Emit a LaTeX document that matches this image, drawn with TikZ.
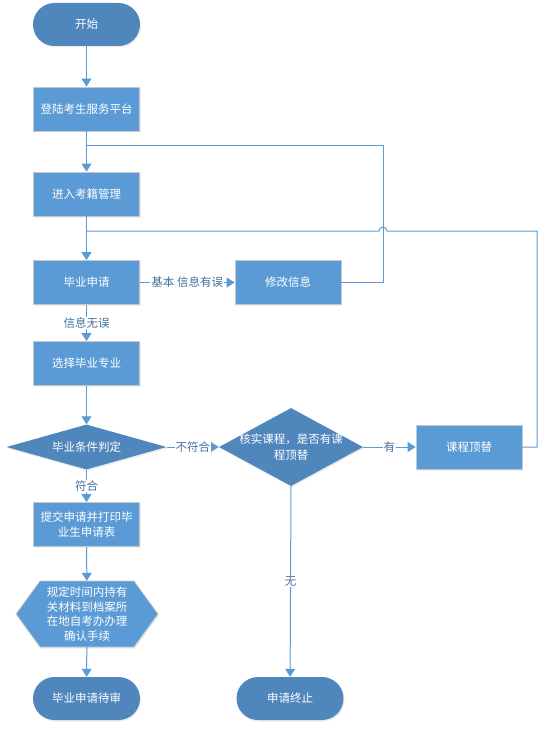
\documentclass[tikz,border=0pt]{standalone}
\usepackage{fontspec}
\setmainfont{Noto Sans CJK SC}
\usetikzlibrary{arrows.meta,shapes.geometric,shapes.misc,shadows}
\definecolor{darkfill}{HTML}{4F86BC}
\definecolor{boxfill}{HTML}{5B9BD5}
\definecolor{linecol}{HTML}{5B9BD5}
\definecolor{labelcol}{HTML}{41719C}
\definecolor{bordercol}{HTML}{C4C8CC}
\begin{document}
\begin{tikzpicture}[x=1pt,y=-1pt,
  font=\fontsize{11.5}{14.5}\selectfont,
  softshadow/.style={drop shadow={shadow xshift=1pt,shadow yshift=-1.5pt,opacity=0.18,fill=black!40}},
  term/.style={rectangle,rounded corners=21.5pt,fill=darkfill,text=white,minimum width=107pt,minimum height=43pt,inner sep=0pt,softshadow},
  procbox/.style={rectangle,fill=boxfill,draw=bordercol,line width=0.8pt,text=white,minimum width=106pt,minimum height=44pt,inner sep=0pt,align=center,softshadow},
  dia/.style={diamond,fill=darkfill,inner sep=0pt,softshadow},
  txt/.style={text=white,align=center,inner sep=0pt},
  conn/.style={draw=linecol,line width=1pt,-{Triangle[width=10pt,length=8pt]}},
  plain/.style={draw=linecol,line width=1pt},
  lbl/.style={fill=white,text=labelcol,inner sep=1pt}]
\useasboundingbox (0,0) rectangle (551,730);

% nodes
\node[term] (start) at (86.5,24.5) {开始};
\node[procbox] (denglu) at (86.5,109) {登陆考生服务平台};
\node[procbox] (jinru) at (86.5,194) {进入考籍管理};
\node[procbox] (shenqing) at (86.5,282.5) {毕业申请};
\node[procbox] (xiugai) at (288,282.5) {修改信息};
\node[procbox] (xuanze) at (86.5,363.5) {选择毕业专业};
\node[dia,minimum width=160pt,minimum height=45pt] (tiaojian) at (86.5,447) {};
\node[txt] (tiaojiantxt) at (tiaojian) {毕业条件判定};
\node[dia,minimum width=144pt,minimum height=78pt] (heshi) at (291,447) {};
\node[txt] (heshitxt) at (heshi) {核实课程，是否有课\\[1.5pt]程顶替};
\node[procbox] (dingti) at (469,447) {课程顶替};
\node[procbox] (tijiao) at (86.5,524.5) {提交申请并打印毕\\[0pt]业生申请表};
\fill[boxfill,draw=bordercol,line width=0.8pt,softshadow] (16,614) -- (40,581) -- (134,581) -- (158,614) -- (134,647) -- (40,647) -- cycle;
\node[txt,minimum width=142pt,minimum height=66pt,font=\fontsize{11.5}{14.5}\selectfont] (hex) at (87,614) {规定时间内持有\\关材料到档案所\\在地自考办办理\\确认手续};
\node[term] (daishen) at (86.5,698.5) {毕业申请待审};
\node[term] (zhongzhi) at (290,698.5) {申请终止};

% junctions
\coordinate (j1) at (86.5,146);
\coordinate (c1) at (383,146);
\coordinate (j2) at (86.5,231);
\coordinate (c2) at (537,231);
\coordinate (hopR) at (387,231);

% connectors
\draw[conn] (start) -- (denglu);
\draw[conn] (denglu) -- (jinru);
\draw[conn] (jinru) -- (shenqing);
\draw[conn] (shenqing) -- node[lbl] {基本 信息有误} (xiugai);
\draw[plain] (xiugai.east) -| (c1) -- (j1);
\draw[plain] (dingti.east) -| (c2) -- (hopR) arc[start angle=0,end angle=180,radius=4pt] -- (j2);
\draw[conn] (shenqing) -- node[lbl] {信息无误} (xuanze);
\draw[conn] (xuanze) -- (tiaojian.north);
\draw[conn] (tiaojian.east) -- node[lbl] {不符合} (heshi.west);
\draw[conn] (heshi.east) -- node[lbl] {有} (dingti);
\draw[conn] (tiaojian.south) -- node[lbl] {符合} (tijiao);
\draw[conn] (tijiao) -- (hex);
\draw[conn] (hex) -- (daishen);
\draw[conn] (heshi.south) -- node[lbl] {无} (zhongzhi);
\end{tikzpicture}
\end{document}
